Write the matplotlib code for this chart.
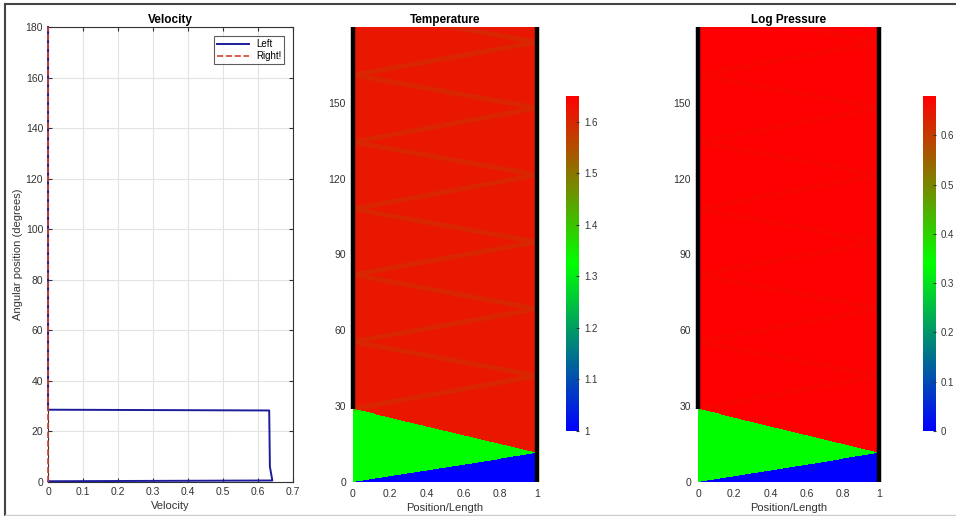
import numpy as np
import matplotlib
matplotlib.use('Agg')
import matplotlib.pyplot as plt
from matplotlib.colors import LinearSegmentedColormap, Normalize
from matplotlib.lines import Line2D

plt.rcParams['font.family'] = ['Liberation Sans', 'DejaVu Sans']

# ---- velocity profiles (angle in degrees, velocity) ----
left_angle = [180, 28.6, 28.3, 6.0, 0.6, 0.3]
left_vel = [0, 0, 0.632, 0.634, 0.641, 0]
right_angle = [0, 180]
right_vel = [0, 0]

# ---- wave diagram regions (angle at Position/Length = 0 and 1) ----
blue_front = [0, 11.5]       # lower edge of compressed zone
green_front = [29, 11.5]     # upper edge of shocked zone
left_hits = [29, 55.5, 82, 108, 134.5, 161, 187]
right_hits = [42, 68.5, 95, 121.5, 148, 174]
left_wall = [29, 180]
right_wall = [0, 180]

# region values: blue, green, red, reflected wave
temp_vals = [1.0, 1.325, 1.62, 1.57]
temp_range = [1.0, 1.65]
logp_vals = [0.0, 0.34, 0.68, 0.64]
logp_range = [0.0, 0.68]

cmap = LinearSegmentedColormap.from_list('bgr', [(0, 0, 1), (0, 1, 0), (1, 0, 0)])

W, H = 956, 516
fig = plt.figure(figsize=(W / 100, H / 100), dpi=100)


def box(l, r, t, b):
    return [l / W, (H - b) / H, (r - l) / W, (b - t) / H]


# ============ velocity ============
ax = fig.add_axes(box(48, 293, 27, 482))
ax.plot(left_vel, left_angle, color='#1c1c9c', lw=1.4, label='Left',
        clip_on=False, zorder=3)
ax.plot(right_vel, right_angle, color='#d9402e', lw=1.2, ls='--', label='Right!',
        clip_on=False, zorder=4)
ax.set_xlim(0, 0.7)
ax.set_ylim(0, 180)
ax.set_xticks(np.arange(0, 0.71, 0.1))
ax.set_xticklabels(['0', '0.1', '0.2', '0.3', '0.4', '0.5', '0.6', '0.7'])
ax.set_yticks(np.arange(0, 181, 20))
ax.grid(True, color='#e3e3e3', lw=0.8)
ax.set_axisbelow(True)
ax.tick_params(direction='in', top=True, right=True, labelsize=7.5,
               colors='#333333', length=3)
for s in ax.spines.values():
    s.set_color('#333333')
    s.set_linewidth(0.8)
    s.set_zorder(2)
ax.set_title('Velocity', fontsize=8.5, fontweight='bold', pad=3)
ax.set_xlabel('Velocity', fontsize=8, color='#333333', labelpad=3)
ax.set_ylabel('Angular position (degrees)', fontsize=8, color='#333333', labelpad=2)
leg = ax.legend(loc='upper right', fontsize=7, frameon=True, fancybox=False,
                handlelength=3.2, borderpad=0.3, labelspacing=0.2,
                bbox_to_anchor=(0.985, 0.99))
leg.get_frame().set_edgecolor('#333333')
leg.get_frame().set_linewidth(0.8)


# ============ wave diagrams ============
def wave_panel(axbox, cbbox, vals, vrange, title, cticks, wave_alpha):
    ax = fig.add_axes(axbox)
    norm = Normalize(vrange[0], vrange[1])
    xs = np.linspace(0, 1, 301)
    ys = np.linspace(0, 180, 901)
    X, Y = np.meshgrid(xs, ys)
    yb = np.interp(X, [0, 1], blue_front)
    yg = np.interp(X, [0, 1], green_front)
    Z = np.where(Y < yb, vals[0], np.where(Y < yg, vals[1], vals[2]))
    mesh = ax.pcolormesh(xs, ys, Z, cmap=cmap, norm=norm, shading='auto',
                         rasterized=True)
    # reflected wave zigzag between the walls
    zx, zy = [], []
    for i in range(len(left_hits)):
        zx.append(0)
        zy.append(left_hits[i])
        if i < len(right_hits):
            zx.append(1)
            zy.append(right_hits[i])
    ax.plot(zx, zy, color=cmap(norm(vals[3])), lw=3.5, alpha=wave_alpha,
            solid_capstyle='butt')
    ax.plot([0, 0], left_wall, color='black', lw=3.2, clip_on=False,
            solid_capstyle='butt')
    ax.plot([1, 1], right_wall, color='black', lw=3.2, clip_on=False,
            solid_capstyle='butt')
    ax.set_xlim(0, 1)
    ax.set_ylim(0, 180)
    ax.set_xticks([0, 0.2, 0.4, 0.6, 0.8, 1])
    ax.set_xticklabels(['0', '0.2', '0.4', '0.6', '0.8', '1'])
    ax.set_yticks([0, 30, 60, 90, 120, 150])
    for s in ax.spines.values():
        s.set_visible(False)
    ax.tick_params(length=0, labelsize=7.5, colors='#333333', pad=5)
    ax.set_title(title, fontsize=8.5, fontweight='bold', pad=3)
    ax.set_xlabel('Position/Length', fontsize=8, color='#333333', labelpad=3)

    cax = fig.add_axes(cbbox)
    cb = fig.colorbar(mesh, cax=cax, ticks=cticks)
    cb.outline.set_visible(False)
    cb.ax.tick_params(length=2, direction='in', labelsize=7, colors='#333333')
    cb.ax.set_yticklabels([('%g' % t) for t in cticks])
    return ax


wave_panel(box(353, 537, 27, 482), box(566, 579, 96, 431),
           temp_vals, temp_range, 'Temperature',
           [1.0, 1.1, 1.2, 1.3, 1.4, 1.5, 1.6], 0.4)
wave_panel(box(698, 879, 27, 482), box(923, 936, 96, 431),
           logp_vals, logp_range, 'Log Pressure',
           [0, 0.1, 0.2, 0.3, 0.4, 0.5, 0.6], 0.2)

# screenshot frame
fig.add_artist(Line2D([5 / W, 1], [1 - 4 / H, 1 - 4 / H], color='#444444', lw=1.5))
fig.add_artist(Line2D([5 / W, 5 / W], [1 / H, 1 - 4 / H], color='#444444', lw=1.5))
fig.add_artist(Line2D([5 / W, 1], [1 / H, 1 / H], color='#cccccc', lw=1.0))

fig.savefig('out.png', dpi=100)
